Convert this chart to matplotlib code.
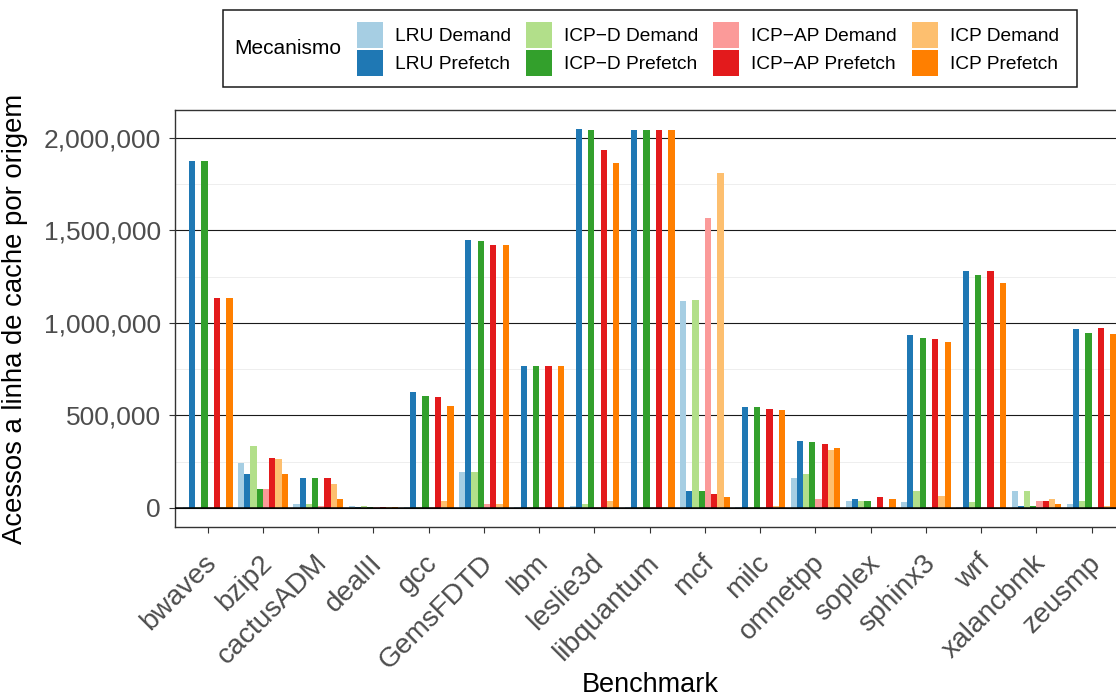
import matplotlib
matplotlib.use("Agg")
import matplotlib.pyplot as plt
import matplotlib.transforms as mtransforms
from matplotlib.patches import Patch, Rectangle
from matplotlib.ticker import MultipleLocator, FuncFormatter
import numpy as np

plt.rcParams['font.family'] = ['Liberation Sans', 'DejaVu Sans']

benchmarks = ["bwaves", "bzip2", "cactusADM", "dealII", "gcc", "GemsFDTD", "lbm",
              "leslie3d", "libquantum", "mcf", "milc", "omnetpp", "soplex",
              "sphinx3", "wrf", "xalancbmk", "zeusmp"]

series_names = ["LRU Demand", "LRU Prefetch", "ICP\u2212D Demand", "ICP\u2212D Prefetch",
                "ICP\u2212AP Demand", "ICP\u2212AP Prefetch", "ICP Demand", "ICP Prefetch"]

lru_demand = [6000, 244000, 18000, 12000, 5000, 196000, 6000, 12000, 5000,
              1118000, 4000, 163000, 34000, 28600, 5000, 93000, 23000]
lru_prefetch = [1873000, 185000, 163000, 6000, 627000, 1447000, 767600, 2046500, 2041000,
                88000, 546400, 363000, 45000, 934800, 1280000, 12000, 967000]
icpd_demand = [5000, 336000, 18000, 12000, 4000, 196000, 5000, 23000, 5000,
               1124000, 5000, 185000, 39000, 93300, 28600, 93000, 34000]
icpd_prefetch = [1873000, 104000, 163000, 6000, 606000, 1442000, 767600, 2040000, 2041000,
                 88000, 546400, 357600, 34000, 918600, 1258500, 12000, 945600]
icpap_demand = [5000, 99000, 12000, 6000, 4000, 18000, 4000, 5000, 4000,
                1566000, 5000, 45000, 6000, 5000, 4000, 34000, 5000]
icpap_prefetch = [1134000, 271000, 163000, 6000, 600000, 1420000, 767600, 1932700, 2041000,
                  72000, 535600, 346800, 55600, 913200, 1280000, 39000, 972500]
icp_demand = [5000, 266000, 126000, 6000, 39000, 18000, 5000, 39000, 4000,
              1808600, 12000, 314500, 6000, 66000, 5000, 45000, 12000]
icp_prefetch = [1134000, 185000, 50000, 6000, 552000, 1420000, 767600, 1862500, 2041000,
                55600, 530000, 325000, 45000, 897000, 1215000, 18000, 940000]

series_values = [lru_demand, lru_prefetch, icpd_demand, icpd_prefetch,
                 icpap_demand, icpap_prefetch, icp_demand, icp_prefetch]
colors = ['#A6CEE3', '#1F78B4', '#B2DF8A', '#33A02C',
          '#FB9A99', '#E31A1C', '#FDBF6F', '#FF7F00']

W, H = 1116, 696
fig = plt.figure(figsize=(W / 100, H / 100), dpi=100)

# panel geometry in pixels (extends slightly past the right edge, as in the reference)
pl, pr, pt, pb = 174.5, 1124.8, 110.3, 526.7
ax = fig.add_axes([pl / W, (H - pb) / H, (pr - pl) / W, (pb - pt) / H])

n = len(series_values)
x = np.arange(len(benchmarks))
bw = 0.9 / n
for j, (vals, c) in enumerate(zip(series_values, colors)):
    ax.bar(x + (j - (n - 1) / 2) * bw, vals, width=bw, color=c, linewidth=0, zorder=2)

ymax = max(max(v) for v in series_values)
ax.set_ylim(-0.05 * ymax, 1.05 * ymax)
ax.set_xlim(-0.6, len(benchmarks) - 1 + 0.6)

ax.axhline(0, color='black', linewidth=1.1, zorder=3)

ax.yaxis.set_major_locator(MultipleLocator(500000))
ax.yaxis.set_minor_locator(MultipleLocator(250000))
ax.yaxis.set_major_formatter(FuncFormatter(lambda v, p: f"{int(round(v)):,}"))
ax.grid(which='major', axis='y', color='#1a1a1a', linewidth=0.8, zorder=0)
ax.grid(which='minor', axis='y', color='#EBEBEB', linewidth=0.6, zorder=0)
ax.set_axisbelow(True)

for s in ax.spines.values():
    s.set_color('#333333')
    s.set_linewidth(1.0)

ax.tick_params(axis='y', which='major', length=4.2, width=0.8, color='#333333',
               labelsize=19, labelcolor='#4D4D4D', pad=5.5)
ax.tick_params(axis='y', which='minor', length=0)
ax.tick_params(axis='x', which='major', length=4.0, width=0.8, color='#333333',
               labelsize=20.2, labelcolor='#4D4D4D', pad=0)

ax.set_xticks(x)
ax.set_xticklabels(benchmarks, rotation=45, ha='right', va='top', rotation_mode='anchor')
offset = mtransforms.ScaledTranslation(-4 / 100, -17.7 / 100, fig.dpi_scale_trans)
for lab in ax.get_xticklabels():
    lab.set_transform(lab.get_transform() + offset)

fig.text(650 / W, 1 - 692 / H, "Benchmark", ha='center', va='baseline', fontsize=19.5)
fig.text(22 / W, 1 - 318.5 / H, "Acessos a linha de cache por origem", rotation=90,
         rotation_mode='anchor', ha='center', va='baseline', fontsize=19.8)

# legend
fs = 13.75
fpx = fs * 100 / 72
key_px = 26.0
hh = (key_px / fpx - 0.245) / 0.65
handles = [Patch(facecolor=c, edgecolor='none', label=l) for c, l in zip(colors, series_names)]
leg = fig.legend(handles=handles, loc='center left', bbox_to_anchor=(357 / W, 1 - 49 / H),
                 ncol=4, frameon=False, fontsize=fs, borderpad=0, borderaxespad=0,
                 handlelength=key_px / fpx, handleheight=hh, labelspacing=2 / fpx,
                 handletextpad=12 / fpx, columnspacing=15 / fpx)
fig.text(234 / W, 1 - 48.5 / H, "Mecanismo", ha='left', va='center', fontsize=15)
fig.add_artist(Rectangle((222.7 / W, 1 - 87.3 / H), (1077 - 222.7) / W, (87.3 - 9.7) / H,
                         transform=fig.transFigure, fill=False, edgecolor='#1a1a1a',
                         linewidth=1.1))

fig.savefig("out.png", dpi=100)
